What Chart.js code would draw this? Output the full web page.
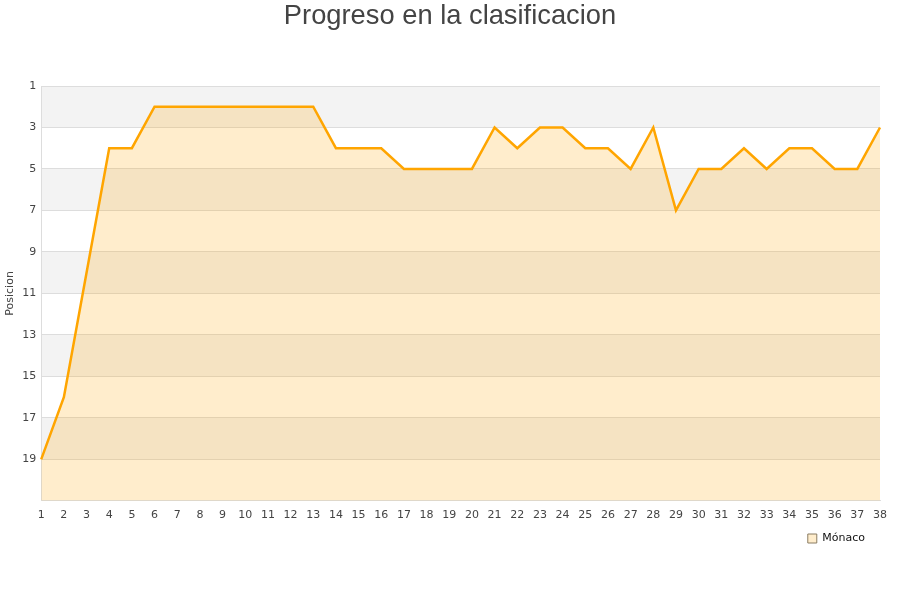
<!DOCTYPE html>
<html>
<head>
<meta charset="utf-8">
<script src="https://cdn.jsdelivr.net/npm/chart.js@4/dist/chart.umd.min.js"></script>
<style>
  html, body { margin: 0; padding: 0; background: #fff; }
  #wrap { width: 900px; height: 600px; }
</style>
</head>
<body>
<div id="wrap"><canvas id="posChart"></canvas></div>
<script>
// Jornadas y posición de Mónaco
const jornadas = ["1","2","3","4","5","6","7","8","9","10","11","12","13","14","15","16","17","18","19","20","21","22","23","24","25","26","27","28","29","30","31","32","33","34","35","36","37","38"];
const posiciones = [19, 16, 10, 4, 4, 2, 2, 2, 2, 2, 2, 2, 2, 4, 4, 4, 5, 5, 5, 5, 3, 4, 3, 3, 4, 4, 5, 3, 7, 5, 5, 4, 5, 4, 4, 5, 5, 3];
const equipo = "Mónaco";
const titulo = "Progreso en la clasificacion";
const yMin = 1;
const yMax = 21;

// bandas grises alternas entre las líneas de la rejilla
const bandas = {
    id: "bandas",
    beforeDraw(chart) {
        const { ctx, chartArea, scales } = chart;
        const y = scales.y;
        ctx.save();
        ctx.fillStyle = "#f3f3f3";
        for (let v = yMin; v < yMax; v += 4) {
            const top = y.getPixelForValue(v);
            const bottom = y.getPixelForValue(Math.min(v + 2, yMax));
            ctx.fillRect(chartArea.left, top, chartArea.right - chartArea.left, bottom - top);
        }
        ctx.restore();
    }
};

// título centrado en todo el lienzo + leyenda algo más a la izquierda
const ajustes = {
    id: "ajustes",
    afterLayout(chart) {
        chart.legend.left -= 12;
        chart.legend.right -= 12;
    },
    afterDraw(chart) {
        const c = chart.ctx;
        c.save();
        c.fillStyle = "#444";
        c.font = "27.3px 'Liberation Sans'";
        c.textAlign = "center";
        c.textBaseline = "middle";
        c.fillText(titulo, chart.width / 2, 16);
        c.restore();
    }
};

const ctx = document.getElementById("posChart").getContext("2d");
const chart = new Chart(ctx, {
    type: "line",
    data: {
        labels: jornadas,
        datasets: [
            {
                label: equipo,
                data: posiciones,
                borderColor: "#ffa500",
                backgroundColor: "rgba(255, 165, 0, 0.2)",
                borderWidth: 2.5,
                pointRadius: 0,
                tension: 0,
                fill: "start"
            }
        ]
    },
    options: {
        responsive: true,
        maintainAspectRatio: false,
        animation: false,
        layout: { padding: { top: 86, right: 20, bottom: 46, left: 0 } },
        plugins: {
            title: { display: false },
            legend: {
                position: "bottom",
                align: "end",
                labels: {
                    color: "#111",
                    boxWidth: 9,
                    boxHeight: 9,
                    padding: 3,
                    font: { family: "DejaVu Sans", size: 11 },
                    generateLabels(c) {
                        return [{
                            text: equipo,
                            fillStyle: "rgba(255, 165, 0, 0.2)",
                            strokeStyle: "#8a7c62",
                            lineWidth: 1,
                            fontColor: "#111",
                            datasetIndex: 0
                        }];
                    }
                }
            },
            tooltip: { enabled: false }
        },
        scales: {
            x: {
                offset: false,
                grid: { display: false, drawTicks: false },
                border: { color: "#dddddd" },
                ticks: {
                    color: "#444",
                    font: { family: "DejaVu Sans", size: 11 },
                    maxRotation: 0,
                    autoSkip: false,
                    padding: 8
                }
            },
            y: {
                reverse: true,
                min: yMin,
                max: yMax,
                afterBuildTicks(scale) {
                    const t = [];
                    for (let v = yMin; v < yMax; v += 2) t.push({ value: v });
                    t.push({ value: yMax });
                    scale.ticks = t;
                },
                grid: { color: "#dddddd", drawTicks: false },
                border: { color: "#dddddd" },
                title: {
                    display: true,
                    text: "Posicion",
                    color: "#444",
                    font: { family: "DejaVu Sans", size: 11 },
                    padding: { top: 4, bottom: 0 }
                },
                ticks: {
                    color: "#444",
                    font: { family: "DejaVu Sans", size: 11 },
                    padding: 5,
                    callback: (v) => (v === yMax ? "" : v)
                }
            }
        }
    },
    plugins: [bandas, ajustes]
});
</script>
</body>
</html>
